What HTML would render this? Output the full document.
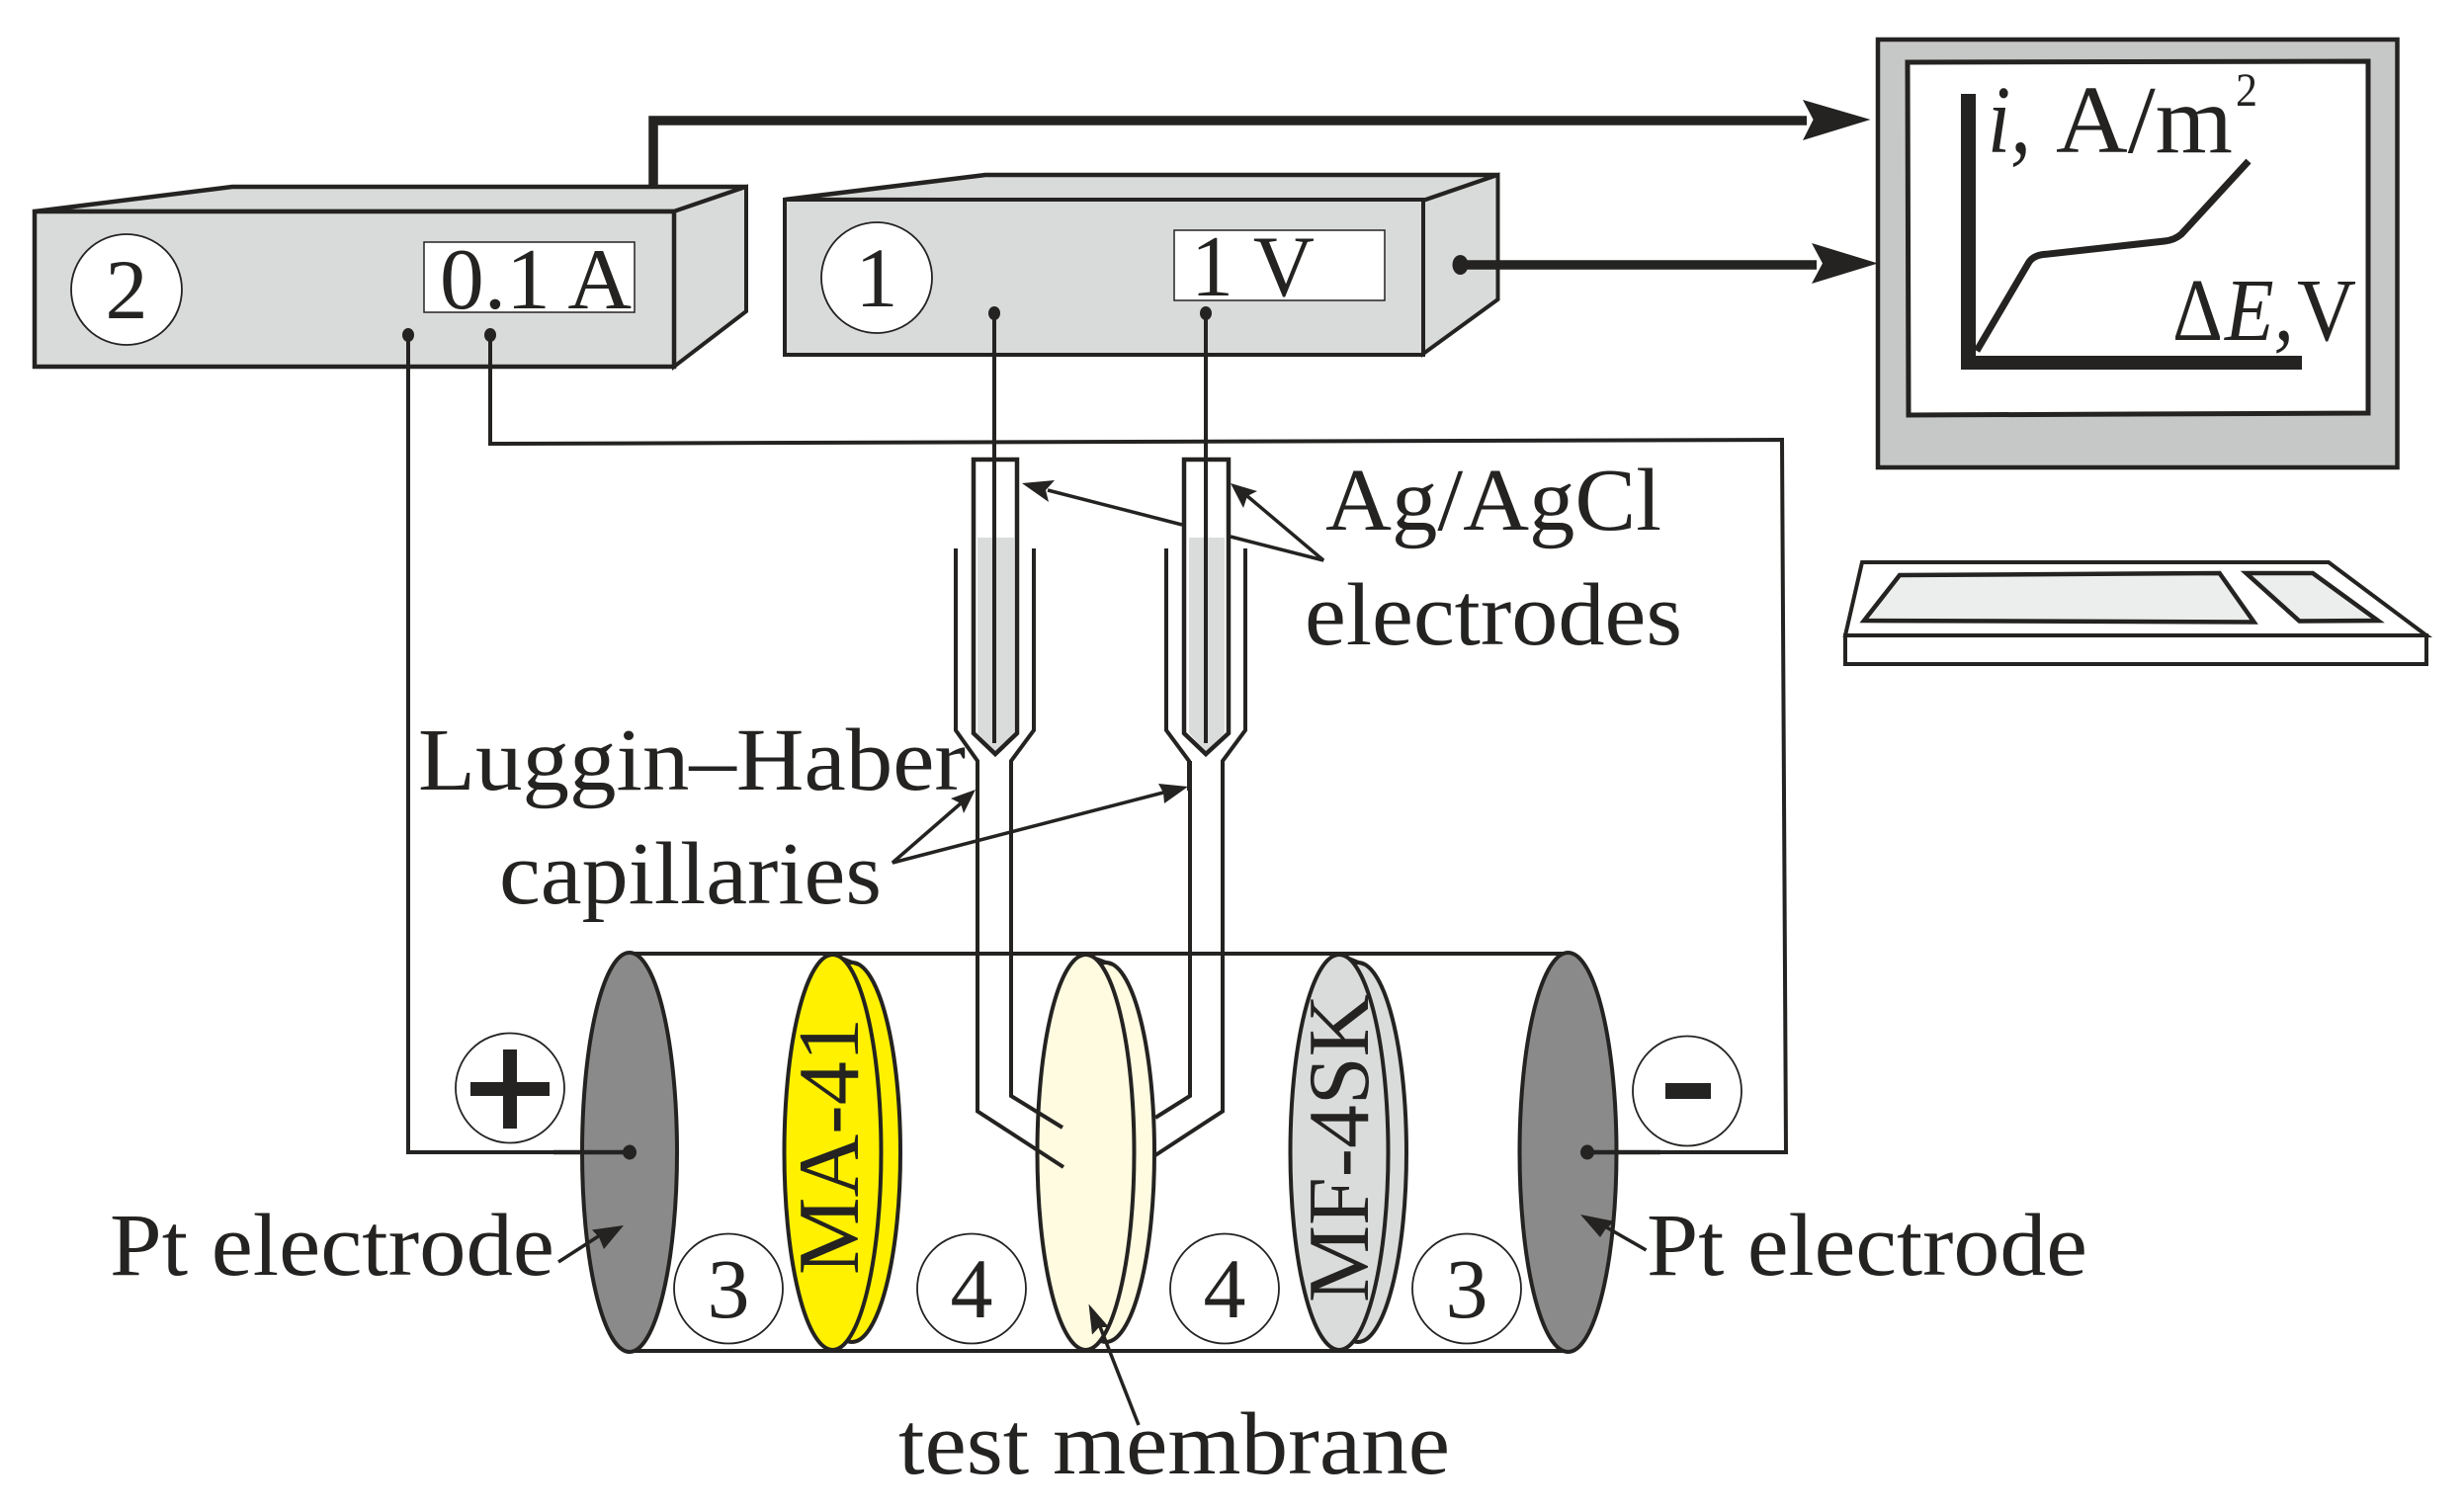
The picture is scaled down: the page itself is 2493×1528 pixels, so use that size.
<!DOCTYPE html>
<html><head><meta charset="utf-8"><style>
html,body{margin:0;padding:0;background:#fff}
svg{display:block}
text{font-family:"Liberation Serif",serif;fill:#242321;font-size:90px}
text.d{font-size:86px}
</style></head><body>
<svg width="2493" height="1528" viewBox="0 0 2493 1528" xmlns="http://www.w3.org/2000/svg">
<rect width="2493" height="1528" fill="#fff"/>
<g stroke="#242321" stroke-width="4" fill="none" stroke-linejoin="miter">

<!-- thick wire from box 2 -->
<path d="M661 189V122H1828" stroke-width="9.500"/>
<path d="M1892.500 121L1824 101L1834.600 121L1824 142Z" fill="#242321" stroke="none"/>

<!-- box 2 -->
<path d="M35 214L235 189H755L682 214Z" fill="#d9dbda" stroke-width="4.500"/>
<path d="M682 214L755 189V315L682 371Z" fill="#d9dbda"/>
<rect x="35" y="214" width="647" height="157" fill="#d9dbda" stroke-width="4.500"/>
<ellipse cx="128" cy="293" rx="56" ry="56" fill="#fff" stroke-width="1.800"/>
<rect x="429" y="245" width="213" height="71" fill="#fff" stroke-width="1.500"/>

<!-- box 1 -->
<path d="M794 202L997 177H1515.500L1440 203Z" fill="#d9dbda" stroke-width="4.500"/>
<path d="M1440 203L1515.500 177V303L1440 358Z" fill="#d9dbda"/>
<rect x="794" y="202" width="646" height="157" fill="#d9dbda"/>
<ellipse cx="887" cy="281" rx="56" ry="56" fill="#fff" stroke-width="1.800"/>
<rect x="1188" y="233" width="213" height="71" fill="#fff" stroke-width="1.500"/>

<ellipse cx="413" cy="339" rx="6" ry="7" fill="#242321" stroke="none"/>
<ellipse cx="496" cy="339" rx="6" ry="7" fill="#242321" stroke="none"/>
<ellipse cx="1006" cy="317" rx="6" ry="7" fill="#242321" stroke="none"/>
<ellipse cx="1220" cy="317" rx="6" ry="7" fill="#242321" stroke="none"/>

<!-- thick wire from box 1 -->
<path d="M1478 268H1838" stroke-width="9.500"/>
<ellipse cx="1477.500" cy="268" rx="8" ry="10" fill="#242321" stroke="none"/>
<path d="M1900 266.500L1833 246L1844 266.500L1833 287Z" fill="#242321" stroke="none"/>

<!-- monitor -->
<rect x="1900" y="40" width="525.500" height="433" fill="#c6c8c7" stroke-width="4.500"/>
<path d="M1930 63L2396 62V418L1931 420Z" fill="#fff" stroke-width="5"/>
<path d="M1984 95H1999V360H2329V374H1984Z" fill="#242321" stroke="none"/>
<path d="M2000 355L2053 265Q2058 258 2070 257.300L2190 244Q2200 243 2207 237L2275 163" fill="none" stroke-width="7"/>

<!-- keyboard -->
<path d="M1884 569H2356L2455 643H1867Z" fill="#fff"/>
<rect x="1867" y="643" width="588" height="29" fill="#fff"/>
<path d="M1922 582L2245.600 580L2280.500 629.500L1886 628Z" fill="#eceeed" stroke-width="4.500"/>
<path d="M2272.600 580H2340L2406 628L2326.500 628.500Z" fill="#eceeed" stroke-width="4.500"/>

<!-- wires to cell -->
<path d="M413 339V1166H600"/>
<path d="M496 339V449L1803 445L1807 1166H1640"/>

<!-- right diagonals of capillaries (behind membrane) -->
<path d="M1204 770V1109L1169 1131M1237 770V1124.500L1169 1169"/>

<!-- cylinder -->
<path d="M637 965H1587M637 1367H1587"/>
<ellipse cx="637" cy="1166" rx="48" ry="202" fill="#8a8a8a"/>
<ellipse cx="1586.500" cy="1166" rx="49" ry="202" fill="#8a8a8a"/>
<path d="M560 1166H637M1606 1166H1680" stroke-width="4.500"/>

<!-- MA-41 -->
<ellipse cx="862" cy="1166" rx="49" ry="192" fill="#fff100"/>
<path d="M845 967L868 976" stroke-width="3.500"/>
<ellipse cx="842.500" cy="1166" rx="49" ry="200" fill="#fff100"/>
<!-- test -->
<ellipse cx="1119" cy="1166" rx="49" ry="192" fill="#fffbe0"/>
<path d="M1101 967L1125 976" stroke-width="3.500"/>
<ellipse cx="1098.500" cy="1166" rx="49" ry="200" fill="#fffbe0"/>
<!-- MF-4SK -->
<ellipse cx="1374" cy="1166" rx="49" ry="192" fill="#dadcdb"/>
<path d="M1358 967L1380 976" stroke-width="3.500"/>
<ellipse cx="1355" cy="1166" rx="49.500" ry="200" fill="#dadcdb"/>

<!-- capillaries -->
<path d="M989 544H1026V742L1007 760L989 742Z" fill="#dadcdb" stroke="none"/>
<path d="M1203 544H1239V742L1220 760L1203 742Z" fill="#dadcdb" stroke="none"/>
<path d="M985 465H1029V742L1007 763L985 742Z" stroke-width="4.500"/>
<path d="M1198 465H1243V742L1220 763L1198 742Z" stroke-width="4.500"/>
<path d="M1006 317V752M1220 317V752"/>
<path d="M967 555V739L989 770V1124.500L1076 1181M1046 555V739L1023 770V1109L1075 1141"/>
<path d="M1180 555V739L1203 770V800M1260 555V739L1237 770V800"/>

<!-- Ag/AgCl arrows -->
<path d="M1060 496L1196 531M1245 543L1339 567L1262 502" stroke-width="3.500"/>
<path d="M1034 489L1067 486L1058 496L1061 508Z" fill="#242321" stroke="none"/>
<path d="M1245 489L1272 497L1262 502L1258 514Z" fill="#242321" stroke="none"/>

<!-- Luggin arrows -->
<path d="M972 813L903 873L1177 802" stroke-width="3.500"/>
<path d="M987 799L962 808L972 813L975 823Z" fill="#242321" stroke="none"/>
<path d="M1202 796L1172 793L1177 802L1178 813Z" fill="#242321" stroke="none"/>

<!-- label ovals -->
<ellipse cx="516" cy="1101" rx="55" ry="55.500" fill="#fff" stroke-width="1.800"/>
<ellipse cx="1707" cy="1104" rx="55" ry="55.500" fill="#fff" stroke-width="1.800"/>
<ellipse cx="737" cy="1304" rx="55" ry="55.500" fill="#fff" stroke-width="1.800"/>
<ellipse cx="983" cy="1304" rx="55" ry="55.500" fill="#fff" stroke-width="1.800"/>
<ellipse cx="1239" cy="1304" rx="55" ry="55.500" fill="#fff" stroke-width="1.800"/>
<ellipse cx="1484" cy="1304" rx="55" ry="55.500" fill="#fff" stroke-width="1.800"/>
<path d="M476 1095H556V1109H476ZM509 1062H523V1142H509Z" fill="#242321" stroke="none"/>
<rect x="1685" y="1096" width="46" height="16" fill="#242321" stroke="none"/>

<ellipse cx="637" cy="1166" rx="7" ry="7.500" fill="#242321" stroke="none"/>
<ellipse cx="1606" cy="1166" rx="7" ry="7.500" fill="#242321" stroke="none"/>

<!-- Pt arrows -->
<path d="M565 1277L607 1250" stroke-width="3.500"/>
<path d="M631 1240L599 1244.500L606 1252L611 1264Z" fill="#242321" stroke="none"/>
<path d="M1665.500 1265L1622 1240" stroke-width="3.500"/>
<path d="M1599 1229L1634 1236L1625 1243L1619 1252Z" fill="#242321" stroke="none"/>
<!-- membrane arrow -->
<path d="M1152 1442L1112 1340" stroke-width="3.500"/>
<path d="M1101.500 1319.500L1122 1343L1112 1343L1105 1350.600Z" fill="#242321" stroke="none"/>
</g>

<!-- text -->
<text class="d" x="128" y="322" text-anchor="middle">2</text>
<text class="d" x="887" y="310" text-anchor="middle">1</text>
<text x="445" y="312" textLength="194" lengthAdjust="spacingAndGlyphs" style="font-size:88px">0.1 A</text>
<text x="1205" y="299" textLength="125" lengthAdjust="spacingAndGlyphs" style="font-size:88px">1 V</text>
<text class="d" x="737" y="1333" text-anchor="middle">3</text>
<text class="d" x="983" y="1333" text-anchor="middle">4</text>
<text class="d" x="1239" y="1333" text-anchor="middle">4</text>
<text class="d" x="1484" y="1333" text-anchor="middle">3</text>

<text x="423" y="799" textLength="554" lengthAdjust="spacingAndGlyphs">Luggin–Haber</text>
<text x="505" y="914" textLength="387" lengthAdjust="spacingAndGlyphs">capillaries</text>
<text x="1341" y="536" textLength="340" lengthAdjust="spacingAndGlyphs">Ag/AgCl</text>
<text x="1320" y="652" textLength="382" lengthAdjust="spacingAndGlyphs">electrodes</text>
<text x="111" y="1290" textLength="450" lengthAdjust="spacingAndGlyphs">Pt electrode</text>
<text x="1666" y="1290" textLength="446" lengthAdjust="spacingAndGlyphs">Pt electrode</text>
<text x="909" y="1491" textLength="558" lengthAdjust="spacingAndGlyphs">test membrane</text>

<text transform="translate(868 1290) rotate(-90)" textLength="260" lengthAdjust="spacingAndGlyphs" style="font-size:88px">MA-41</text>
<text transform="translate(1384 1318) rotate(-90)" textLength="312" lengthAdjust="spacingAndGlyphs" style="font-size:88px">MF-4SK</text>

<text x="2011" y="154" font-style="italic" textLength="44" lengthAdjust="spacingAndGlyphs" style="font-size:98px">i,</text>
<text x="2080" y="154" textLength="179" lengthAdjust="spacingAndGlyphs" style="font-size:98px">A/m</text>
<text x="2262" y="107" textLength="22" lengthAdjust="spacingAndGlyphs" style="font-size:48px">2</text>
<text x="2198" y="344" textLength="51" lengthAdjust="spacingAndGlyphs">Δ</text>
<text x="2251" y="344" font-style="italic" textLength="70" lengthAdjust="spacingAndGlyphs">E,</text>
<text x="2324" y="344" textLength="60" lengthAdjust="spacingAndGlyphs">V</text>
</svg>
</body></html>
